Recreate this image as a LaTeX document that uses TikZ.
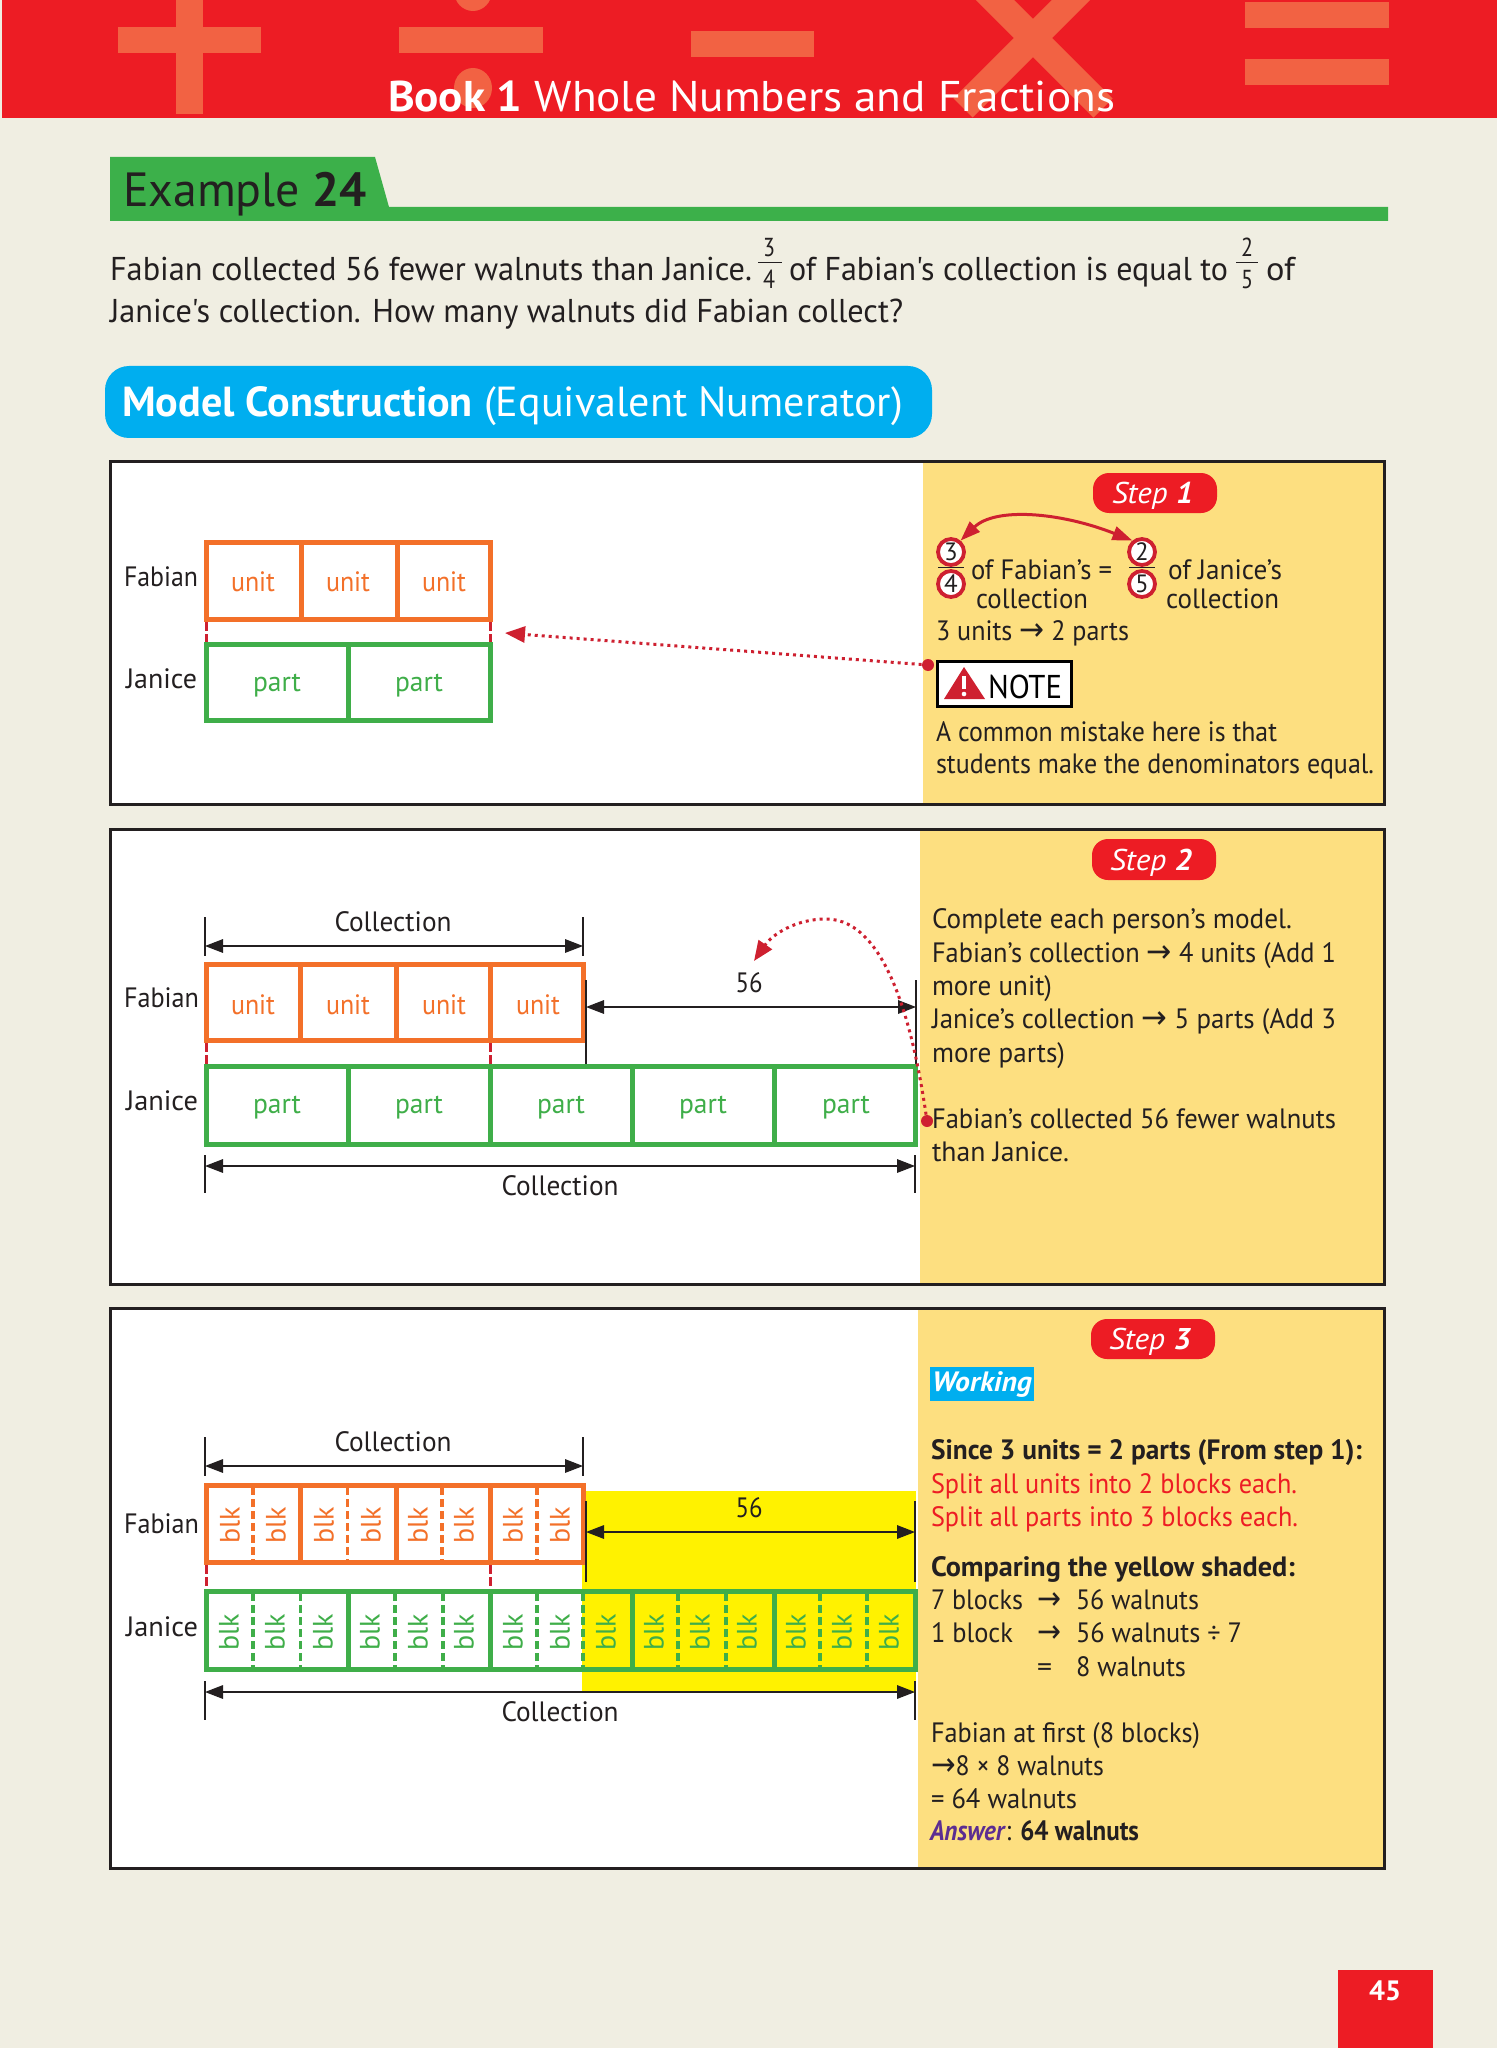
\documentclass[tikz,border=0pt]{standalone}
\usepackage{graphicx}
\usepackage{fontspec}
\setmainfont{PT Sans}
\newfontfamily\qf{PT Sans}
\newfontfamily\sym{DejaVu Sans}
\usetikzlibrary{arrows.meta}
\definecolor{pagebg}{HTML}{F0EEE2}
\definecolor{topred}{HTML}{ED1C24}
\definecolor{symred}{HTML}{F26243}
\definecolor{ink}{HTML}{231F20}
\definecolor{exgreen}{HTML}{3CB04A}
\definecolor{pillblue}{HTML}{00AEEF}
\definecolor{panelyel}{HTML}{FDDF80}
\definecolor{shadeyel}{HTML}{FFF200}
\definecolor{unitc}{HTML}{F37029}
\definecolor{partc}{HTML}{3FAE49}
\definecolor{linkred}{HTML}{CE2030}
\definecolor{ansp}{HTML}{5C2D91}
\newlength\txw
\newcommand{\arw}{{\sym\fontsize{16}{16}\selectfont →}}
% name, x, y, width px, size pt, colour, text
\newcommand{\tx}[7]{\setlength\txw{#4pt}\txw=0.5\txw
  \node[lbl,text=#6,anchor=base west] (#1) at (#2,#3) {\resizebox{\txw}{\height}{\fontsize{#5}{#5}\selectfont #7}};}
\newcommand{\cx}[7]{\setlength\txw{#4pt}\txw=0.5\txw
  \node[lbl,text=#6,anchor=base] (#1) at (#2,#3) {\resizebox{\txw}{\height}{\fontsize{#5}{#5}\selectfont #7}};}
% name, x1, y1, x2, y2, style
\newcommand{\cell}[6]{\node[#6,minimum width={(#4-#2)*0.5pt},minimum height={(#5-#3)*0.5pt}] (#1) at ({(#2+#4)/2},{(#3+#5)/2}) {};}
% dimension arrow: name, x1, x2, yarrow, ytop, ybot
\newcommand{\dimar}[6]{
  \coordinate (#1a) at (#2,#4); \coordinate (#1b) at (#3,#4);
  \coordinate (#1at) at (#2,#5); \coordinate (#1ab) at (#2,#6);
  \coordinate (#1bt) at (#3,#5); \coordinate (#1bb) at (#3,#6);
  \draw[dimbar] (#1at) -- (#1ab);
  \draw[dimbar] (#1bt) -- (#1bb);
  \draw[dimline] (#1a) -- (#1b);}
\newcommand{\blk}[4]{\node[lbl,text=#4,rotate=90] (#1) at (#2,#3) {\fontsize{14}{14}\selectfont blk};}
\tikzset{
  x=0.5pt,y=-0.5pt,
  lbl/.style={inner sep=0pt,outer sep=0pt},
  panelframe/.style={draw=ink,line width=1.5pt,inner sep=0pt,outer sep=0pt},
  panelwhite/.style={fill=white,inner sep=0pt,outer sep=0pt},
  ocell/.style={draw=unitc,line width=2.5pt,inner sep=0pt,outer sep=0pt},
  gcell/.style={draw=partc,line width=2.5pt,inner sep=0pt,outer sep=0pt},
  odiv/.style={draw=unitc,line width=1.6pt,dash pattern=on 4pt off 2pt},
  gdiv/.style={draw=partc,line width=1.6pt,dash pattern=on 4pt off 2pt},
  rdash/.style={draw=linkred,line width=1.5pt,dash pattern=on 4.5pt off 1.5pt,shorten >=1.25pt,shorten <=1.25pt},
  dimbar/.style={draw=ink,line width=1.4pt},
  dimline/.style={draw=ink,line width=0.6pt,{Triangle[length=9pt,width=6.8pt]}-{Triangle[length=9pt,width=6.8pt]}},
  reddot/.style={circle,fill=linkred,minimum size=6pt,inner sep=0pt},
  dotted link/.style={draw=linkred,line width=1.5pt,dash pattern=on 1.5pt off 2pt,-{Triangle[length=10pt,width=8pt]}},
  steppill/.style={fill=topred,rounded corners=8pt,inner sep=0pt},
  numring/.style={circle,draw=linkred,fill=white,line width=1.9pt,minimum size=13pt,inner sep=0pt,text=ink},
  fracbar/.style={draw=ink,line width=0.5pt},
}
\begin{document}
\begin{tikzpicture}
\path[use as bounding box,fill=pagebg] (0,0) rectangle (1497,2048);
% ---------- header
\fill[topred] (2,0) rectangle (1497,118);
\begin{scope}
\clip (2,0) rectangle (1497,118);
\fill[symred] (118,27) rectangle (261,53);
\fill[symred] (176,0) rectangle (203,114);
\fill[symred] (399,27) rectangle (543,53);
\fill[symred] (473,-9) ellipse[x radius=19,y radius=20];
\fill[symred] (473,88) ellipse[x radius=19,y radius=20];
\fill[symred] (691,31) rectangle (814,57);
\draw[symred,line width=13.5pt] (985,-10) -- (1103,108);
\draw[symred,line width=13.5pt] (1081,-10) -- (963,108);
\fill[symred] (1245,2) rectangle (1389,28);
\fill[symred] (1245,59) rectangle (1389,85);
\end{scope}
\tx{title}{388}{112}{727}{21.5}{white}{\textbf{Book 1} Whole Numbers and Fractions}
% ---------- example heading
\fill[exgreen] (110,157) -- (375,157) -- (389,207) -- (1388,207) -- (1388,221) -- (110,221) -- cycle;
\tx{extitle}{123}{207}{244}{24}{ink}{Example \textbf{24}}
% ---------- question
\tx{q1}{110}{281}{642}{16.5}{ink}{\qf Fabian collected 56 fewer walnuts than Janice.}
\cx{qa}{769}{257}{12}{13}{ink}{3}
\draw[fracbar] (758,263) -- (782,263);
\cx{qb}{769}{289}{12}{13}{ink}{4}
\tx{q2}{789}{281}{439}{16.5}{ink}{\qf of Fabian's collection is equal to}
\cx{qc}{1247}{257}{12}{13}{ink}{2}
\draw[fracbar] (1236,263) -- (1258,263);
\cx{qd}{1247}{289}{12}{13}{ink}{5}
\tx{q3}{1266}{281}{29}{16.5}{ink}{\qf of}
\tx{q4}{110}{323}{793}{16.5}{ink}{\qf Janice's collection. How many walnuts did Fabian collect?}
% ---------- model pill
\cell{mpill}{105}{366}{932}{438}{fill=pillblue,rounded corners=12pt,inner sep=0pt}
\tx{mtext}{122}{416}{781}{21}{white}{\textbf{Model Construction} (Equivalent Numerator)}
% ---------- panel backgrounds
\cell{p1w}{110}{462}{1384}{804}{panelwhite}
\fill[panelyel] (923,462) rectangle (1384,804);
\cell{p2w}{110}{829}{1384}{1284}{panelwhite}
\fill[panelyel] (920,829) rectangle (1384,1284);
\cell{p3w}{110}{1308}{1384}{1868}{panelwhite}
\fill[panelyel] (918,1308) rectangle (1384,1868);
\cell{p1f}{110}{462}{1384}{804}{panelframe}
\cell{p2f}{110}{829}{1384}{1284}{panelframe}
\cell{p3f}{110}{1308}{1384}{1868}{panelframe}
% ---------- panel 1 model
\cell{a1}{206.2}{542.2}{301}{619.8}{ocell}
\cell{a2}{301}{542.2}{397}{619.8}{ocell}
\cell{a3}{397}{542.2}{490.8}{619.8}{ocell}
\cell{b1}{206.2}{644.2}{348}{720.8}{gcell}
\cell{b2}{348}{644.2}{490.8}{720.8}{gcell}
\tx{af}{124}{586}{74}{14}{ink}{Fabian}
\tx{aj}{126}{688}{71}{14}{ink}{Janice}
\cx{au1}{253}{591}{44}{14}{unitc}{unit}
\cx{au2}{348}{591}{44}{14}{unitc}{unit}
\cx{au3}{444}{591}{44}{14}{unitc}{unit}
\cx{ap1}{277}{691}{48}{14}{partc}{part}
\cx{ap2}{419}{691}{48}{14}{partc}{part}
\draw[rdash] (a1.south west) -- (b1.north west);
\draw[rdash] (a3.south east) -- (b2.north east);
% ---------- panel 1 text
\cell{s1}{1093}{473}{1217}{513}{steppill}
\tx{s1t}{1112}{503}{81}{15}{white}{\textit{Step} \textbf{\textit{1}}}
\node[numring] (c3) at (951,552) {\fontsize{12.5}{12.5}\selectfont 3};
\node[numring] (c4) at (951,584) {\fontsize{12.5}{12.5}\selectfont 4};
\node[numring] (c2) at (1142,552) {\fontsize{12.5}{12.5}\selectfont 2};
\node[numring] (c5) at (1142,584) {\fontsize{12.5}{12.5}\selectfont 5};
\draw[fracbar] (938,567) -- (964,567);
\draw[fracbar] (1129,567) -- (1155,567);
\draw[draw=linkred,line width=1.5pt,{Triangle[length=10pt,width=7pt]}-{Triangle[length=10pt,width=7pt]}] (c3.50) .. controls (995,507) and (1060,512) .. (c2.130);
\tx{f1}{971}{579}{141}{14}{ink}{of Fabian’s =}
\tx{f2}{976}{608}{112}{14}{ink}{collection}
\tx{f3}{1168}{579}{114}{14}{ink}{of Janice’s}
\tx{f4}{1166}{608}{113}{14}{ink}{collection}
\tx{f5}{936}{640}{193}{14}{ink}{3 units \arw{} 2 parts}
\cell{nbox}{937.5}{661.5}{1071}{706}{fill=white,draw=black,line width=1.5pt,inner sep=0pt}
\fill[linkred] (964,667) -- (985,699) -- (944,699) -- cycle;
\fill[white] (962.2,676) rectangle (965.8,689);
\fill[white] (964,694) circle[radius=2.3];
\tx{nt}{988}{698}{74}{16.5}{black}{NOTE}
\tx{m1}{936}{741}{341}{14}{ink}{A common mistake here is that}
\tx{m2}{936}{773}{438}{14}{ink}{students make the denominators equal.}
\node[reddot] (d1) at (928,665) {};
\coordinate (tip1) at (505,633);
\draw[dotted link] (d1) -- (tip1);
% ---------- panel 2 model
\dimar{dt}{205}{583}{946}{917}{956}
\cx{col1}{393}{931}{117}{14}{ink}{Collection}
\foreach \n/\xa/\xb in {1/206.2/300.5,2/300.5/396.5,3/396.5/490,4/490/583.8}
  {\cell{e\n}{\xa}{964.2}{\xb}{1040.8}{ocell}}
\foreach \n/\xa/\xb in {1/206.2/348,2/348/490,3/490/632,4/632/774,5/774/915.8}
  {\cell{g\n}{\xa}{1066.2}{\xb}{1144.8}{gcell}}
\tx{ef}{124}{1007}{75}{14}{ink}{Fabian}
\tx{ej}{126}{1110}{72}{14}{ink}{Janice}
\foreach \n/\x in {1/253,2/348,3/444,4/538}
  {\cx{eu\n}{\x}{1014}{44}{14}{unitc}{unit}}
\foreach \n/\x in {1/277,2/419,3/561,4/703,5/846}
  {\cx{ep\n}{\x}{1113}{48}{14}{partc}{part}}
\draw[rdash] (e1.south west) -- (g1.north west);
\draw[rdash] (e4.south west) -- (g3.north west);
\dimar{dm}{586}{916}{1007}{980}{1064}
\cx{n56a}{749}{992}{27}{14}{ink}{56}
\dimar{db}{205}{915}{1166}{1155}{1193}
\cx{col2}{560}{1195}{117}{14}{ink}{Collection}
% ---------- panel 2 text
\cell{s2}{1092}{839}{1216}{880}{steppill}
\tx{s2t}{1110}{870}{82}{15}{white}{\textit{Step} \textbf{\textit{2}}}
\tx{w1}{932}{928}{360}{14}{ink}{Complete each person’s model.}
\tx{w2}{932}{962}{404}{14}{ink}{Fabian’s collection \arw{} 4 units (Add 1}
\tx{w3}{932}{995}{120}{14}{ink}{more unit)}
\tx{w4}{932}{1028}{404}{14}{ink}{Janice’s collection \arw{} 5 parts (Add 3}
\tx{w5}{932}{1062}{133}{14}{ink}{more parts)}
\tx{w6}{932}{1128}{404}{14}{ink}{Fabian’s collected 56 fewer walnuts}
\tx{w7}{932}{1161}{137}{14}{ink}{than Janice.}
\node[reddot] (d2) at (927,1121) {};
\coordinate (tip2) at (754,961);
\coordinate (peak2) at (826,919);
\draw[dotted link] (d2) .. controls (915,1040) and (890,919) .. (peak2) .. controls (795,919) and (772,935) .. (tip2);
% ---------- panel 3 model
\fill[shadeyel] (582,1491) rectangle (916,1693);
\dimar{ft}{205}{583}{1466}{1437}{1476}
\cx{col3}{393}{1451}{117}{14}{ink}{Collection}
\foreach \n/\x in {1/253,2/347.5,3/442,4/537}
  {\coordinate (ot\n) at (\x,1487); \coordinate (ob\n) at (\x,1563); \draw[odiv] (ot\n) -- (ob\n);}
\foreach \n/\x in {1/253,2/300.5,3/395,4/443,5/537,6/583,7/678,8/726,9/820,10/867}
  {\coordinate (gt\n) at (\x,1593); \coordinate (gb\n) at (\x,1670); \draw[gdiv] (gt\n) -- (gb\n);}
\foreach \n/\xa/\xb in {1/206.2/300.5,2/300.5/396.5,3/396.5/490,4/490/583.8}
  {\cell{h\n}{\xa}{1485.2}{\xb}{1562.8}{ocell}}
\foreach \n/\xa/\xb in {1/206.2/348,2/348/490,3/490/632,4/632/774,5/774/915.8}
  {\cell{k\n}{\xa}{1591.2}{\xb}{1669.8}{gcell}}
\foreach \n/\x in {1/230,2/276,3/324,4/371,5/418,6/464,7/513,8/560}
  {\blk{bo\n}{\x}{1525}{unitc}}
\foreach \n/\x in {1/229,2/275,3/323,4/370,5/418,6/464,7/513,8/560,9/606,10/654,11/700,12/747,13/796,14/842,15/889}
  {\blk{bg\n}{\x}{1632}{partc}}
\tx{hf}{124}{1533}{75}{14}{ink}{Fabian}
\tx{hj}{126}{1636}{72}{14}{ink}{Janice}
\draw[rdash] (h1.south west) -- (k1.north west);
\draw[rdash] (h4.south west) -- (k3.north west);
\dimar{fm}{586}{915}{1532}{1501}{1582}
\cx{n56b}{749}{1517}{27}{14}{ink}{56}
\dimar{fb}{205}{915}{1692}{1681}{1720}
\cx{col4}{560}{1721}{117}{14}{ink}{Collection}
% ---------- panel 3 text
\cell{s3}{1091}{1319}{1215}{1359}{steppill}
\tx{s3t}{1109}{1349}{82}{15}{white}{\textit{Step} \textbf{\textit{3}}}
\cell{wbox}{930}{1367}{1034}{1401}{fill=pillblue,inner sep=0pt}
\tx{wtx}{932}{1391}{100}{14}{white}{\textbf{\textit{Working}}}
\tx{t1}{931}{1459}{431}{14}{ink}{\textbf{Since 3 units = 2 parts (From step 1):}}
\tx{t2}{931}{1493}{366}{14}{topred}{Split all units into 2 blocks each.}
\tx{t3}{931}{1526}{367}{14}{topred}{Split all parts into 3 blocks each.}
\tx{t4}{931}{1576}{364}{14}{ink}{\textbf{Comparing the yellow shaded:}}
\tx{t5}{931}{1609}{92}{14}{ink}{7 blocks}
\tx{t5a}{1037}{1609}{24}{14}{ink}{\arw}
\tx{t5b}{1076}{1609}{123}{14}{ink}{56 walnuts}
\tx{t6}{931}{1642}{82}{14}{ink}{1 block}
\tx{t6a}{1037}{1642}{24}{14}{ink}{\arw}
\tx{t6b}{1076}{1642}{166}{14}{ink}{56 walnuts ÷ 7}
\tx{t7a}{1037}{1676}{15}{14}{ink}{=}
\tx{t7b}{1076}{1676}{110}{14}{ink}{8 walnuts}
\tx{t8}{931}{1742}{269}{14}{ink}{Fabian at first (8 blocks)}
\tx{t9}{931}{1775}{173}{14}{ink}{\arw{}8 × 8 walnuts}
\tx{t10}{931}{1808}{146}{14}{ink}{= 64 walnuts}
\tx{t11}{930}{1840}{209}{14}{ink}{\textcolor{ansp}{\textbf{\textit{Answer}}}: \textbf{64 walnuts}}
% ---------- page number
\cell{pg}{1338}{1970}{1433}{2048}{fill=topred,inner sep=0pt}
\cx{pgn}{1385}{2000}{32}{14}{white}{\textbf{45}}
\end{tikzpicture}
\end{document}
